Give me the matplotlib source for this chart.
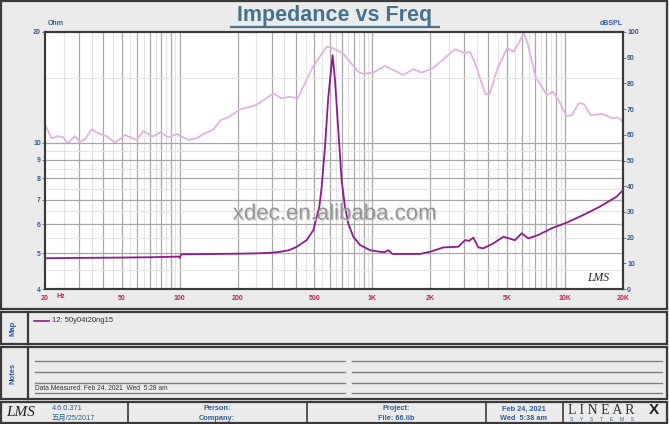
# Impedance vs Freq (LMS style report page)

import matplotlib
matplotlib.use('Agg')
import matplotlib.pyplot as plt
import matplotlib.patches as patches
import matplotlib.patheffects as pe

plt.rcParams['font.family'] = ['Liberation Sans', 'Noto Sans CJK SC', 'DejaVu Sans']

# impedance curve (Hz, Ohm)
freq_z = [20, 30, 50, 70, 99, 100, 102, 150, 200, 250, 300, 332, 370, 405, 456, 494,
          531, 546, 568, 591, 622, 640, 666, 693, 721, 750, 796, 863, 973, 1096, 1160,
          1211, 1260, 1285, 1500, 1767, 1992, 2335, 2794, 3027, 3185, 3344, 3549, 3767,
          4246, 4785, 5500, 5958, 6455, 7267, 8526, 10200, 12450, 15180, 18520, 20000]
imp_ohm = [4.85, 4.86, 4.87, 4.88, 4.90, 4.86, 4.97, 4.98, 4.99, 5.0, 5.02, 5.05, 5.10,
           5.21, 5.43, 5.78, 6.70, 7.59, 9.75, 13.34, 17.3, 14.8, 10.8, 7.9, 6.70, 6.03,
           5.55, 5.27, 5.10, 5.05, 5.04, 5.10, 5.0, 4.98, 4.98, 4.98, 5.05, 5.19, 5.21,
           5.43, 5.41, 5.52, 5.19, 5.16, 5.32, 5.55, 5.43, 5.67, 5.49, 5.61, 5.85, 6.06,
           6.36, 6.70, 7.13, 7.43]

# SPL curve (Hz, dB)
freq_spl = [20, 21.7, 23.4, 24.9, 26.3, 28.6, 30.3, 32.2, 34.9, 37.8, 41.7, 46.2, 52,
            59.9, 64.8, 72.6, 79.4, 87.2, 96.7, 110.6, 122, 135, 149, 164, 179, 205,
            250, 306, 337, 372, 410, 492, 580, 620, 704, 843, 894, 1011, 1162, 1446,
            1634, 1805, 2064, 2684, 3028, 3215, 3417, 3853, 4058, 4434, 5000, 5427,
            6115, 6363, 7031, 8063, 8663, 9270, 10130, 10880, 11790, 12530, 13590,
            15630, 17640, 18730, 20000]
spl_db = [63.8, 58.6, 59.5, 59.0, 56.7, 59.5, 57.3, 58.2, 62.1, 60.6, 59.5, 56.9, 59.9,
          58.0, 61.5, 59.3, 61.0, 59.0, 60.3, 58.0, 58.6, 60.6, 61.9, 65.8, 66.8, 69.8,
          71.6, 76.1, 74.2, 74.8, 74.2, 86.5, 94.3, 93.8, 91.7, 84.6, 83.7, 84.2, 86.8,
          83.3, 85.5, 84.2, 85.9, 93.3, 91.7, 92.3, 87.8, 75.9, 75.9, 85.2, 93.7, 92.3,
          99.5, 96.2, 82.6, 75.5, 76.8, 73.5, 67.3, 67.7, 72.3, 72.0, 67.7, 68.1, 66.4,
          66.8, 65.1]

x_ticks = [20, 50, 100, 200, 500, 1000, 2000, 5000, 10000, 20000]
x_labels = ['20', '50', '100', '200', '500', '1K', '2K', '5K', '10K', '20K']
ohm_ticks = [4, 5, 6, 7, 8, 9, 10, 20]
db_ticks = list(range(0, 101, 10))

BLUE = '#2f5f9c'
RED = '#c0245e'
FRAME = '#3a3a3a'
PANEL = '#ebebeb'

W, H = 669, 424
fig = plt.figure(figsize=(W / 100, H / 100), dpi=100)
fig.patch.set_facecolor(PANEL)

# page layout in pixel coordinates
bg = fig.add_axes([0, 0, 1, 1])
bg.set_xlim(0, W)
bg.set_ylim(H, 0)
bg.axis('off')

def box(x0, y0, x1, y1):
    bg.add_patch(patches.Rectangle((x0, y0), x1 - x0, y1 - y0, facecolor=PANEL,
                                   edgecolor=FRAME, lw=1.6))

box(1, 1, 667, 309)
box(1, 312, 667, 344)
box(1, 347, 667, 399)
box(1, 402, 667, 423)
for xd in [28]:
    bg.plot([xd, xd], [312, 344], color=FRAME, lw=1.6)
    bg.plot([xd, xd], [347, 399], color=FRAME, lw=1.6)
for xd in [128, 307, 486, 563]:
    bg.plot([xd, xd], [402, 423], color=FRAME, lw=1.2)

# title
bg.text(335, 16, 'Impedance vs Freq', ha='center', va='center', fontsize=15.5,
        fontweight='bold', color='#44728f')
bg.plot([231, 439], [26.5, 26.5], color='#44728f', lw=1.6)

bg.text(48, 27, 'Ohm', fontsize=5, fontweight='bold', color=BLUE, va='bottom')
bg.text(623, 27, 'dBSPL', fontsize=5, fontweight='bold', color=BLUE, va='bottom', ha='right')

# map panel
bg.text(13, 328, 'Map', rotation=90, ha='center', va='center', fontsize=5.5,
        fontweight='bold', color=BLUE)
bg.plot([34, 49], [321, 321], color='#8e1b8e', lw=1.2)
bg.text(52, 321, '12: 50y04t20ng15', fontsize=5.5, color='#333333', va='center')

# notes panel
bg.text(13, 373, 'Notes', rotation=90, ha='center', va='center', fontsize=5.5,
        fontweight='bold', color=BLUE)
for yl in [361, 372, 383, 393]:
    bg.plot([35, 345], [yl, yl], color='#808080', lw=1.0)
    bg.plot([352, 662], [yl, yl], color='#808080', lw=1.0)
bg.text(35, 391.5, 'Data Measured: Feb 24, 2021  Wed  5:28 am', fontsize=4.8,
        color='#333333', va='bottom')

# footer
bg.text(6, 413, 'LMS', fontsize=11, fontstyle='italic', family='Liberation Serif',
        color='#222222', va='center')
bg.text(52, 409, '4.6.0.371', fontsize=5.3, color=BLUE, va='center')
bg.text(52, 418, '五月/25/2017', fontsize=5.3, color=BLUE, va='center')
bg.text(217, 409, 'Person:', fontsize=5.3, fontweight='bold', color=BLUE, ha='center', va='center')
bg.text(217, 418, 'Company:', fontsize=5.3, fontweight='bold', color=BLUE, ha='center', va='center')
bg.text(396, 409, 'Project:', fontsize=5.3, fontweight='bold', color=BLUE, ha='center', va='center')
bg.text(396, 418, 'File: 66.lib', fontsize=5.3, fontweight='bold', color=BLUE, ha='center', va='center')
bg.text(524, 409, 'Feb 24, 2021', fontsize=5.3, fontweight='bold', color=BLUE, ha='center', va='center')
bg.text(524, 418, 'Wed  5:38 am', fontsize=5.3, fontweight='bold', color=BLUE, ha='center', va='center')
bg.text(568, 410, 'L I N E A R', fontsize=10, family='Liberation Serif', color='#333333', va='center')
bg.text(654, 410, 'X', fontsize=11, fontweight='bold', family='Liberation Sans', color='#222222',
        va='center', ha='center')
bg.text(570, 419.5, 'S     Y     S     T     E     M     S', fontsize=3.6, color=BLUE, va='center')

# chart
ax = fig.add_axes([45 / W, 1 - 289 / H, 578 / W, 257 / H])
ax2 = ax.twinx()
ax.set_zorder(ax2.get_zorder() + 1)
ax.patch.set_visible(False)
ax2.patch.set_visible(True)
ax2.patch.set_facecolor('white')

ax.set_xscale('log')
ax.set_yscale('log')
ax.set_xlim(20, 20000)
ax.set_ylim(4, 20)
ax2.set_ylim(0, 100)

# grid
dark_x = [m * d for d in [10, 100, 1000, 10000] for m in range(1, 10) if 20 < m * d < 20000]
light_x = [(m + 0.5) * d for d in [10, 100, 1000] for m in range(2, 10)]
for xv in light_x:
    ax2.axvline(xv, color='#e4e4e4', lw=0.8, zorder=0)
for xv in dark_x:
    ax2.axvline(xv, color='#a8a8a8', lw=0.9, zorder=0.5)
for yv in [4.5, 5.5, 6.5, 7.5, 8.5, 9.5, 15]:
    ax.axhline(yv, color='#e4e4e4', lw=0.8, zorder=0)
for yv in [5, 6, 7, 8, 9, 10]:
    ax.axhline(yv, color='#a8a8a8', lw=0.9, zorder=0.5)

ax2.plot(freq_spl, spl_db, color='#e2b2e2', lw=1.3, zorder=2)
ax.plot(freq_z, imp_ohm, color='#8e1b8e', lw=1.3, zorder=3)

ax.set_xticks(x_ticks)
ax.set_xticklabels(x_labels)
ax.set_xticks([], minor=True)
ax.set_yticks(ohm_ticks)
ax.set_yticklabels([str(v) for v in ohm_ticks])
ax.set_yticks([], minor=True)
ax2.set_yticks(db_ticks)
ax2.set_yticklabels([str(v) for v in db_ticks])

ax.tick_params(axis='x', length=0, pad=4, labelsize=5, labelcolor=RED)
ax.tick_params(axis='y', length=2, width=0.6, pad=1, labelsize=5, labelcolor=BLUE, color='#666666')
ax2.tick_params(axis='y', length=2, width=0.6, pad=1, labelsize=5, labelcolor=BLUE, color='#666666')
for lab in ax.get_xticklabels() + ax.get_yticklabels() + ax2.get_yticklabels():
    lab.set_fontweight('bold')
bg.text(61, 296, 'Hz', fontsize=5, fontweight='bold', color=RED, va='center', ha='center')

for a in (ax, ax2):
    for s in a.spines.values():
        s.set_color(FRAME)
        s.set_linewidth(1.5)

# watermark and logo on top of the chart
fig.text(335 / W, 1 - 214 / H, 'xdec.en.alibaba.com', fontsize=16, color='#8c8c8c',
         ha='center', va='center', alpha=0.9, zorder=10,
         path_effects=[pe.withSimplePatchShadow(offset=(1, -1), shadow_rgbFace='#d0d0d0', alpha=0.8)])
fig.text(598 / W, 1 - 278 / H, 'LMS', fontsize=8.5, fontstyle='italic', family='Liberation Serif',
         color='#222222', ha='center', va='center', zorder=10)

fig.savefig('out.png', dpi=100, facecolor=PANEL)
